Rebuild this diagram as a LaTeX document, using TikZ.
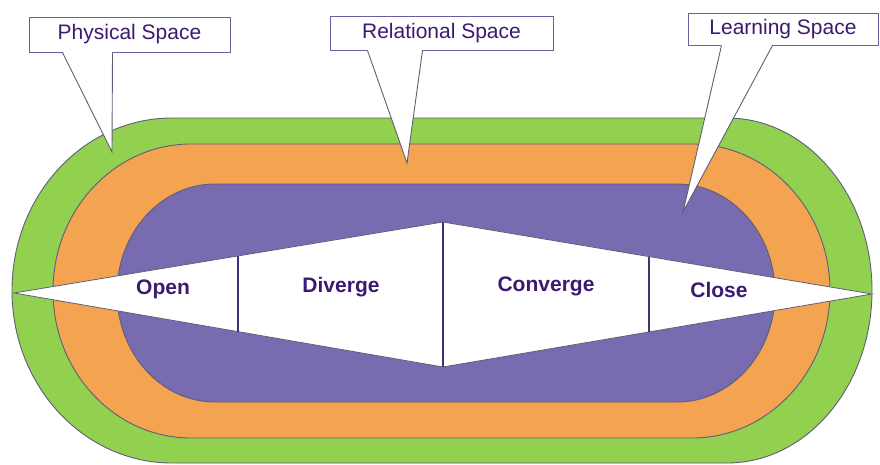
\documentclass[tikz,border=0pt]{standalone}
\usepackage{fontspec}
\setmainfont{Liberation Sans}
\usetikzlibrary{positioning,calc}
\definecolor{trackgreen}{HTML}{92D050}
\definecolor{trackorange}{HTML}{F4A451}
\definecolor{trackpurple}{HTML}{786BB0}
\definecolor{labelpurple}{HTML}{3C1A72}
\definecolor{edgegrey}{HTML}{5E5E78}
\definecolor{boxedge}{HTML}{6C5FA0}

\begin{document}
\begin{tikzpicture}[x=1pt,y=-1pt,
	ring/.style={draw=edgegrey,line width=0.9pt},
	phase/.style={font=\fontsize{21}{24}\selectfont\bfseries,text=labelpurple,inner sep=0pt},
	callbox/.style={draw=boxedge,line width=1pt,fill=white,font=\fontsize{21}{24}\selectfont,text=labelpurple,inner sep=0pt},
	tail/.style={draw=edgegrey,line width=0.9pt},
	divider/.style={draw=labelpurple!70!edgegrey,line width=1.6pt}]
			\useasboundingbox (0,0) rectangle (880,464);
			\draw [ring,fill=trackgreen] (172,118) -- (727,118) arc (-90:90:145 and 172.5) -- (172,463) arc (90:270:160 and 172.5) -- cycle;
			\draw [ring,fill=trackorange] (191,144) -- (692,144) arc (-90:90:138 and 147) -- (191,438) arc (90:270:138 and 147) -- cycle;
			\draw [ring,fill=trackpurple] (215,184) -- (677,184) arc (-90:90:98 and 109) -- (215,402) arc (90:270:98 and 109) -- cycle;
			\coordinate (west) at (14,293);
			\coordinate (north) at (443,222);
			\coordinate (east) at (872,294);
			\coordinate (south) at (443,367);
			\draw [draw=edgegrey,line width=0.8pt,fill=white] (west) -- (north) -- (east) -- (south) -- cycle;
			\draw [divider] ($(west)!0.522!(north)$) -- ($(west)!0.522!(south)$);
			\draw [divider] (north) -- (south);
			\draw [divider] ($(north)!0.480!(east)$) -- ($(south)!0.480!(east)$);
			\node [phase] (open) at (163,289) {Open};
			\node [phase] (diverge) at (341,287) {Diverge};
			\node [phase] (converge) at (546,286) {Converge};
			\node [phase] (close) at (719,290) {Close};
			\node [callbox,minimum width=201,minimum height=35] (physical) at (129.5,34.5) {Physical Space};
			\coordinate (physical tip) at (112,152);
			\fill [white] ([xshift=34pt,yshift=1.5pt]physical.south west) -- (physical tip) -- ([xshift=84pt,yshift=1.5pt]physical.south west);
			\draw [tail] ([xshift=34pt]physical.south west) -- (physical tip) -- ([xshift=84pt]physical.south west);
			\node [callbox,minimum width=223,minimum height=34] (relational) at (441.5,33) {Relational Space};
			\coordinate (relational tip) at (407,163);
			\fill [white] ([xshift=38pt,yshift=1.5pt]relational.south west) -- (relational tip) -- ([xshift=93pt,yshift=1.5pt]relational.south west);
			\draw [tail] ([xshift=38pt]relational.south west) -- (relational tip) -- ([xshift=93pt]relational.south west);
			\node [callbox,minimum width=190,minimum height=32] (learning) at (783,29) {Learning Space};
			\coordinate (learning tip) at (683,212);
			\fill [white] ([xshift=34pt,yshift=1.5pt]learning.south west) -- (learning tip) -- ([xshift=85pt,yshift=1.5pt]learning.south west);
			\draw [tail] ([xshift=34pt]learning.south west) -- (learning tip) -- ([xshift=85pt]learning.south west);
\end{tikzpicture}
\end{document}
